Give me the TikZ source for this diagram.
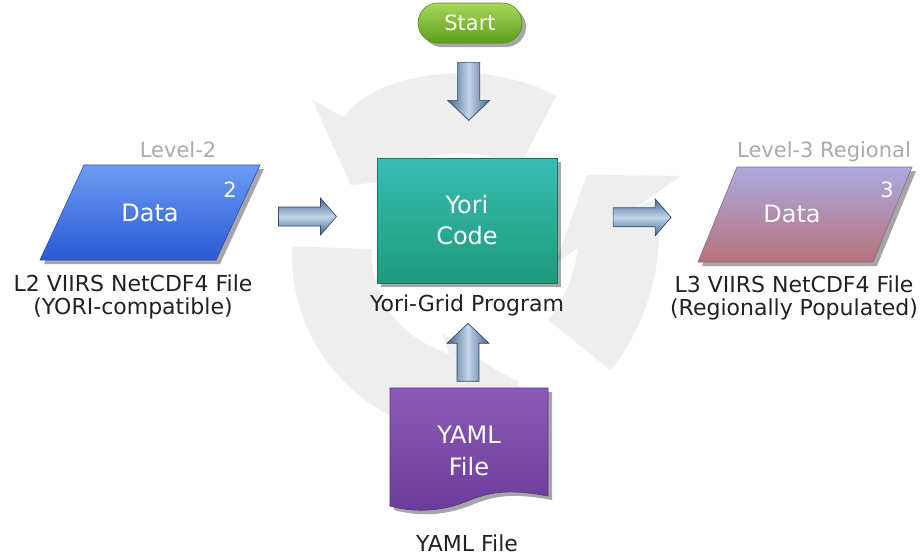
\documentclass[tikz,border=0pt]{standalone}
\usepackage{fontspec}
\setmainfont{DejaVu Sans}
\usetikzlibrary{arrows.meta,shadows,calc}
\definecolor{ringgray}{HTML}{EEEEEE}
\definecolor{arrdark}{HTML}{46668F}
\definecolor{arrlight}{HTML}{C2D5EA}
\definecolor{arrline}{HTML}{34496A}
\definecolor{startTop}{HTML}{A8D758}
\definecolor{startBot}{HTML}{5E9E1C}
\definecolor{startLine}{HTML}{4E8A18}
\definecolor{yoriTop}{HTML}{38BDB3}
\definecolor{yoriBot}{HTML}{1E9A7C}
\definecolor{yoriLine}{HTML}{187560}
\definecolor{dtwoTop}{HTML}{6A9CF4}
\definecolor{dtwoBot}{HTML}{2B59D3}
\definecolor{dtwoLine}{HTML}{2A4FB0}
\definecolor{dthreeTop}{HTML}{ABAADF}
\definecolor{dthreeBot}{HTML}{B6727B}
\definecolor{dthreeLine}{HTML}{8B6A8A}
\definecolor{yamlTop}{HTML}{8C5BB6}
\definecolor{yamlBot}{HTML}{6A3B99}
\definecolor{yamlLine}{HTML}{5A3285}
\definecolor{lvlgray}{HTML}{ABABAB}
\definecolor{lbltext}{HTML}{222222}
\tikzset{
  ringseg/.style={draw=ringgray, line width=80pt, -{Triangle[width=150pt,length=55pt]}},
  softshadow/.style={drop shadow={shadow xshift=4pt, shadow yshift=-4pt, opacity=0.35, fill=black}},
  startbox/.style={rounded corners=20pt, minimum width=104pt, minimum height=40pt,
    top color=startTop, bottom color=startBot, draw=startLine, line width=0.6pt,
    text=white, font=\fontsize{21}{25}\selectfont, softshadow},
  yoribox/.style={minimum width=180pt, minimum height=125pt, top color=yoriTop,
    bottom color=yoriBot, draw=yoriLine, line width=0.6pt, text=white, align=center,
    font=\fontsize{24}{31}\selectfont, softshadow},
  boxtext/.style={text=white, align=center, font=\fontsize{24}{32}\selectfont, inner sep=0pt},
  digit/.style={text=white, font=\fontsize{21}{24}\selectfont, inner sep=0pt},
  lvllbl/.style={text=lvlgray, font=\fontsize{21}{24}\selectfont, inner sep=1pt},
  lbl/.style={text=lbltext, align=center, font=\fontsize{22}{22.5}\selectfont, inner sep=1pt},
  harrow/.pic={\shade[top color=arrdark, bottom color=arrdark, middle color=arrlight,
      draw=arrline, line width=0.7pt]
      (-29,-9.5) -- (13,-9.5) -- (13,-18.5) -- (29,0) -- (13,18.5) -- (13,9.5) -- (-29,9.5) -- cycle;},
  varrow/.pic={\shade[left color=arrdark, right color=arrdark, middle color=arrlight,
      draw=arrline, line width=0.7pt]
      (-11,-29) -- (11,-29) -- (11,9) -- (21,9) -- (0,29) -- (-21,9) -- (-11,9) -- cycle;},
}
\begin{document}
\begin{tikzpicture}[x=1pt,y=-1pt]
\useasboundingbox (0,0) rectangle (923,558);
\fill[white] (0,0) rectangle (923,558);

% background cycle ring (counter-clockwise arrows)
\coordinate (ring) at (472,255);
\draw[ringseg] ($(ring)+(40:140)$) arc[start angle=40, end angle=-35, radius=140];
\draw[ringseg] ($(ring)+(-62:140)$) arc[start angle=-62, end angle=-150, radius=140];
\draw[ringseg] ($(ring)+(-177:140)$) arc[start angle=-177, end angle=-290, radius=140];

% start
\node[startbox] (start) at (470,23) {Start};

% yori code
\node[yoribox] (yori) at (467,220.5) {Yori\\Code};
\node[lbl] (yorilbl) at (467,305) {Yori-Grid Program};

% level-2 data
\shade[top color=dtwoTop, bottom color=dtwoBot, draw=dtwoLine, line width=0.6pt, softshadow]
  (84,165) -- (260,165) -- (216,260) -- (40,260) -- cycle;
\node[boxtext, minimum width=176pt, minimum height=95pt] (data2) at (150,212.5) {Data};
\node[digit] (n2) at (230,190) {2};
\node[lvllbl] (lvl2) at (178,150) {Level-2};
\node[lbl] (l2) at (133,297) {L2 VIIRS NetCDF4 File\\(YORI-compatible)};

% level-3 data
\shade[top color=dthreeTop, bottom color=dthreeBot, draw=dthreeLine, line width=0.6pt, softshadow]
  (737,167) -- (912,167) -- (873,262) -- (698,262) -- cycle;
\node[boxtext, minimum width=175pt, minimum height=95pt] (data3) at (805,214.5) {};
\node[boxtext, text=white!92!dthreeTop] (data3txt) at (792,214) {Data};
\node[digit] (n3) at (887,190) {3};
\node[lvllbl] (lvl3) at (824,152) {Level-3 Regional};
\node[lbl] (l3) at (794,298) {L3 VIIRS NetCDF4 File\\(Regionally Populated)};

% yaml document
\shade[top color=yamlTop, bottom color=yamlBot, draw=yamlLine, line width=0.6pt, softshadow]
  (390,388) -- (548,388) -- (548,496) .. controls (515,490) and (495,490) .. (470,500)
  .. controls (440,513) and (412,512) .. (390,506) -- cycle;
\node[boxtext, minimum width=158pt, minimum height=126pt] (yaml) at (469,451) {YAML\\File};
\node[lbl] (yamllbl) at (467,543) {YAML File};

% block arrows (connectors)
\path (start.south) -- (yori.north) coordinate[pos=0.42] (a1);
\path (data2.east) -- (yori.west) coordinate[pos=0.5] (a2);
\path (yori.east) -- (data3.west) coordinate[pos=0.53] (a3);
\path (yorilbl.south) -- (yaml.north) coordinate[pos=0.5] (a4);
\pic at (a1) {varrow};
\pic at (a2) {harrow};
\pic at (a3) {harrow};
\pic[yscale=-1] at (a4) {varrow};
\end{tikzpicture}
\end{document}
